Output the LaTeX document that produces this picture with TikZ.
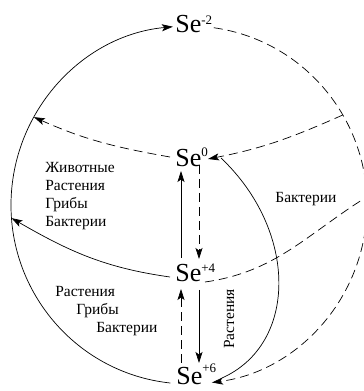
\documentclass[tikz,border=0pt]{standalone}
\usepackage{fontspec}
\setmainfont{Liberation Serif}
\newfontfamily\timesf{Liberation Serif}
\usetikzlibrary{arrows.meta}
\newcommand\oxst[2]{\raisebox{#1pt}{\timesf\fontsize{13}{13}\selectfont #2}}
\begin{document}
\begin{tikzpicture}[x=1pt,y=1pt,
  line width=0.7pt,
  tip/.style={-{Stealth[length=11pt,width=7pt,inset=2.5pt]}},
  dsh/.style={dash pattern=on 9pt off 5pt},
  se/.style={anchor=base west,inner sep=0pt,font=\timesf\fontsize{26}{26}\selectfont},
  lbl/.style={anchor=base west,inner sep=0pt,font=\timesf\fontsize{15.5}{18}\selectfont}]
\useasboundingbox (0,0) rectangle (364,391);
% species
\node[se] (se2) at (175,358) {Se\oxst{8}{-2}};
\node[se] (se0) at (175,224) {Se\oxst{10}{0}};
\node[se] (se4) at (175,109) {Se\oxst{9}{+4}};
\node[se] (se6) at (176,6) {Se\oxst{13}{+6}};
% points on the great circle
\coordinate (C) at (189,186);
\path (C) ++(82:178pt and 179pt) coordinate (s2R);
\path (C) ++(264:178pt and 179pt) coordinate (s6L);
\path (C) ++(150.6:178pt and 179pt) coordinate (L0);
\path (C) ++(30.2:178pt and 179pt) coordinate (R0);
\path (C) ++(184.2:178pt and 179pt) coordinate (L4);
\path (C) ++(2.6:178pt and 179pt) coordinate (R4);
% attachment points at the species
\coordinate (s0W) at (170,234);
\coordinate (s0E) at (208,232);
\coordinate (s0Eb) at (221,233);
\coordinate (s6E) at (222,13);
\coordinate (s4W) at (170,114);
\coordinate (s4E) at (205,109);
\coordinate (v1a) at (181,133); \coordinate (v1b) at (181,220);
\coordinate (v2a) at (199,226); \coordinate (v2b) at (199,132);
\coordinate (v3a) at (181,28);  \coordinate (v3b) at (181,102);
\coordinate (v4a) at (199,101); \coordinate (v4b) at (199,28);
% great circle
\draw[tip] (s6L) arc[start angle=264,end angle=95.2,x radius=178pt,y radius=179pt];
\draw[dsh,tip] (s2R) arc[start angle=82,end angle=-82.6,x radius=178pt,y radius=179pt];
% Se0 latitude
\draw[dsh,tip] (s0W) to[out=170,in=-24] (L0);
\draw[dsh,tip] (R0) to[out=204,in=11] (s0E);
% Se+4 latitude
\draw[tip] (s4W) to[out=172,in=-30] (L4);
\draw[dsh] (s4E) to[out=8,in=212] (R4);
% Se0 -- Se+6 bacteria curve
\draw (s0Eb) .. controls (298,160) and (298,47) .. (s6E);
% vertical arrows
\draw[tip] (v1a) -- (v1b);
\draw[dsh,tip] (v2a) -- (v2b);
\draw[dsh,tip] (v3a) -- (v3b);
\draw[tip] (v4a) -- (v4b);
% labels
\node[lbl] (t1) at (45,218) {Животные};
\node[lbl] (t2) at (45,200) {Растения};
\node[lbl] (t3) at (45,182) {Грибы};
\node[lbl] (t4) at (45,164) {Бактерии};
\node[lbl] (t5) at (55,94) {Растения};
\node[lbl] (t6) at (76,76) {Грибы};
\node[lbl] (t7) at (96,58) {Бактерии};
\node[lbl] (t8) at (275,188) {Бактерии};
\node[inner sep=0pt,rotate=90,font=\timesf\fontsize{15.5}{18}\selectfont] (t9) at (229,72) {Растения};
\end{tikzpicture}
\end{document}
